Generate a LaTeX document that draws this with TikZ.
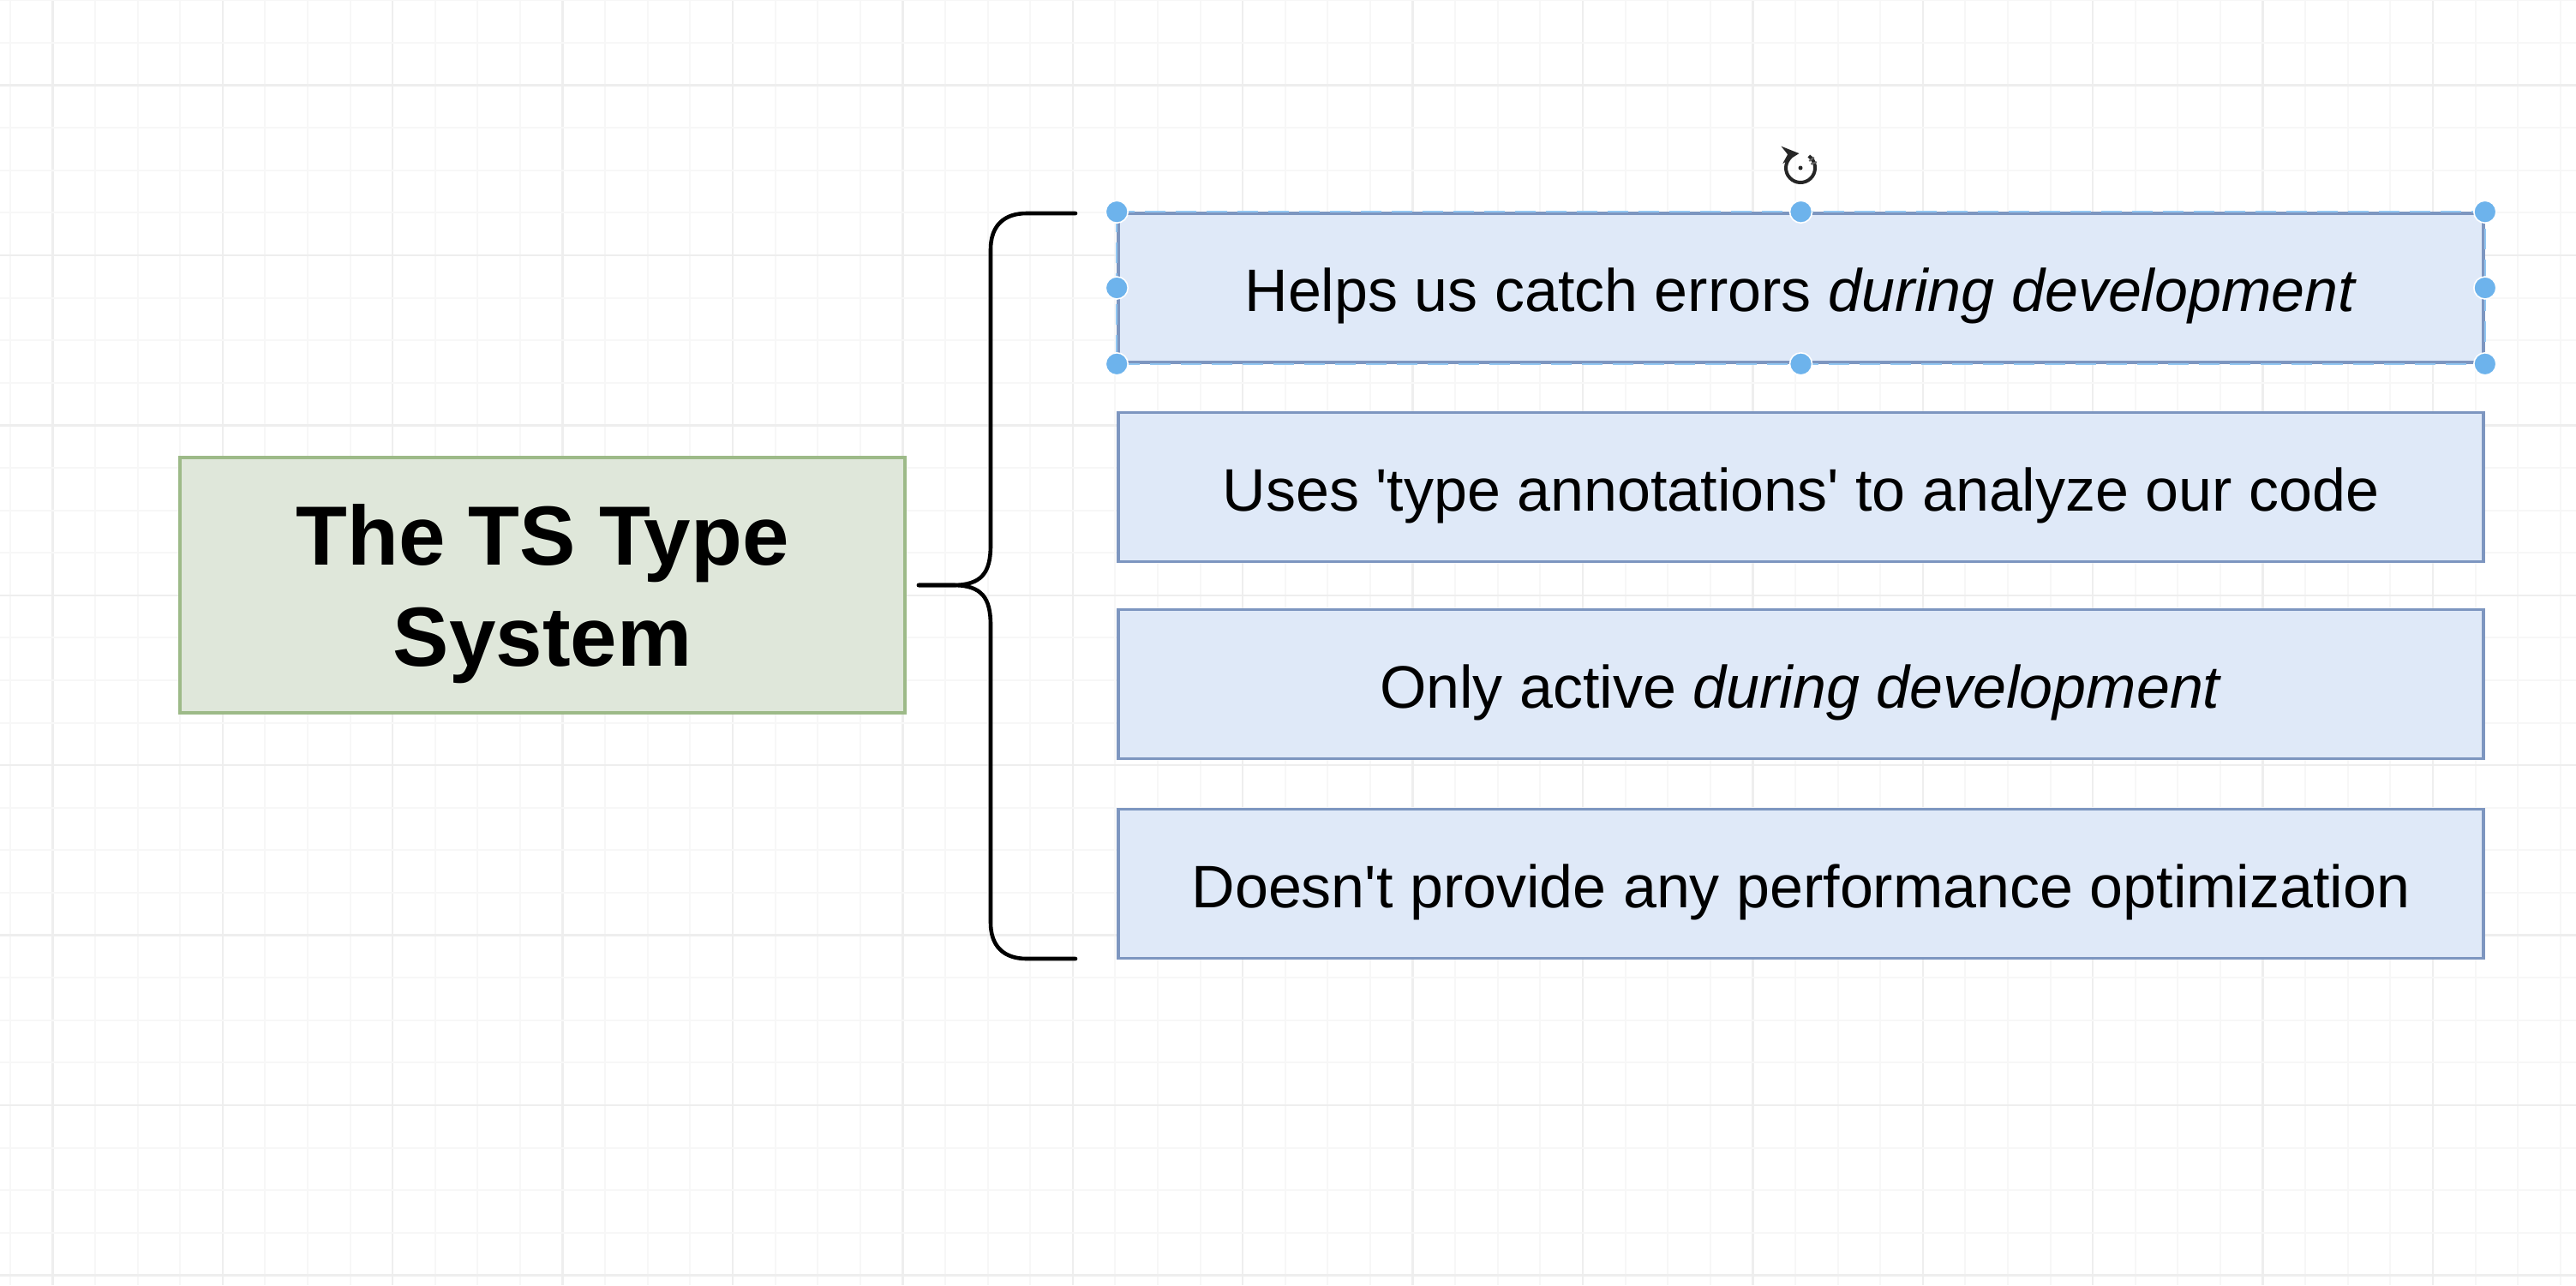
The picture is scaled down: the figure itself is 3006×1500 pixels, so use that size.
\documentclass[tikz,border=0pt]{standalone}
\usepackage{fontspec}
\setmainfont{Liberation Sans}[Ligatures=TeXOff]
\usetikzlibrary{arrows.meta}
\definecolor{gridminor}{HTML}{F7F7F7}
\definecolor{gridmajor}{HTML}{EEEEEE}
\definecolor{bluefill}{HTML}{DFE9F8}
\definecolor{blueline}{HTML}{7D96C0}
\definecolor{greenfill}{HTML}{DFE7DA}
\definecolor{greenline}{HTML}{9DBA88}
\definecolor{handle}{HTML}{6DB3EC}
\tikzset{
  itembox/.style={draw=blueline, fill=bluefill, line width=0.9pt, inner sep=0pt,
    minimum width=398.25pt, minimum height=43.5pt},
  itemtext/.style={inner sep=0pt, yshift=-2.4pt, font=\fontsize{17.5pt}{21pt}\selectfont},
  titlebox/.style={draw=greenline, fill=greenfill, line width=1pt, inner sep=0pt,
    minimum width=211.5pt, minimum height=74.5pt},
  titletext/.style={inner sep=0pt, align=center, yshift=-2.6pt,
    font=\fontsize{24.5pt}{29.5pt}\selectfont\bfseries},
  bracestroke/.style={draw=black, line width=1.15pt},
  handledot/.style={circle, fill=handle, draw=white, line width=0.4pt, inner sep=0pt, minimum size=6.5pt}
}
\begin{document}
\begin{tikzpicture}[x=0.25pt, y=-0.25pt]
\useasboundingbox (0,0) rectangle (3006,1500);
\fill[white] (0,0) rectangle (3006,1500);
% grid
\foreach \k in {0,...,60} {
  \pgfmathsetmacro{\gx}{11.7+49.6*\k}
  \pgfmathtruncatemacro{\m}{mod(\k,4)}
  \ifnum\m=1
    \draw[gridmajor, line width=0.6pt] (\gx,0) -- (\gx,1500);
  \else
    \draw[gridminor, line width=0.5pt] (\gx,0) -- (\gx,1500);
  \fi
}
\foreach \k in {0,...,30} {
  \pgfmathsetmacro{\gy}{0.4+49.6*\k}
  \pgfmathtruncatemacro{\m}{mod(\k,4)}
  \ifnum\m=2
    \draw[gridmajor, line width=0.6pt] (0,\gy) -- (3006,\gy);
  \else
    \draw[gridminor, line width=0.5pt] (0,\gy) -- (3006,\gy);
  \fi
}
% title box
\node[titlebox] (title) at (633,683) {};
\node[titletext] (titlet) at (title.center) {The TS Type\\System};
% item boxes
\node[itembox] (b1) at (2101.5,336) {};
\node[itembox] (b2) at (2101.5,568.5) {};
\node[itembox] (b3) at (2101.5,798.5) {};
\node[itembox] (b4) at (2101.5,1031.5) {};
\node[itemtext] (t1) at (b1.center) {Helps us catch errors \textit{during development}};
\node[itemtext] (t2) at (b2.center) {Uses 'type annotations' to analyze our code};
\node[itemtext] (t3) at (b3.center) {Only active \textit{during development}};
\node[itemtext] (t4) at (b4.center) {Doesn't provide any performance optimization};
% selection outline on b1
\draw[handle!75, line width=0.5pt, dash pattern=on 6pt off 3pt] (b1.north west) rectangle (b1.south east);
% brace
\coordinate (bt) at (1255,249);
\coordinate (bb) at (1255,1119);
\coordinate (tip) at (1072,683);
\draw[bracestroke, line cap=round] (bt) -- (1198,249) .. controls (1171,249) and (1156,264) .. (1156,291)
  -- (1156,636) .. controls (1156,668) and (1146,683) .. (1112,683) -- (tip);
\draw[bracestroke, line cap=round] (tip) -- (1112,683) .. controls (1146,683) and (1156,698) .. (1156,730)
  -- (1156,1077) .. controls (1156,1104) and (1171,1119) .. (1198,1119) -- (bb);
% handles
\foreach \a in {north west,north,north east,west,east,south west,south,south east} {
  \node[handledot] at (b1.\a) {};
}
% rotate icon
\begin{scope}[shift={(2101,196)}, yscale=-1]
  \coordinate (rot) at (0,0);
  \draw[black!85, line width=1pt, -{Stealth[length=5pt,width=5pt]}] (55:17) arc[start angle=55, end angle=-265, radius=17];
  \fill[black!85] (rot) circle (2.5);
  \draw[black!60, line width=0.5pt] (38:13) -- (38:20) (20:13) -- (20:20);
\end{scope}
\end{tikzpicture}
\end{document}
